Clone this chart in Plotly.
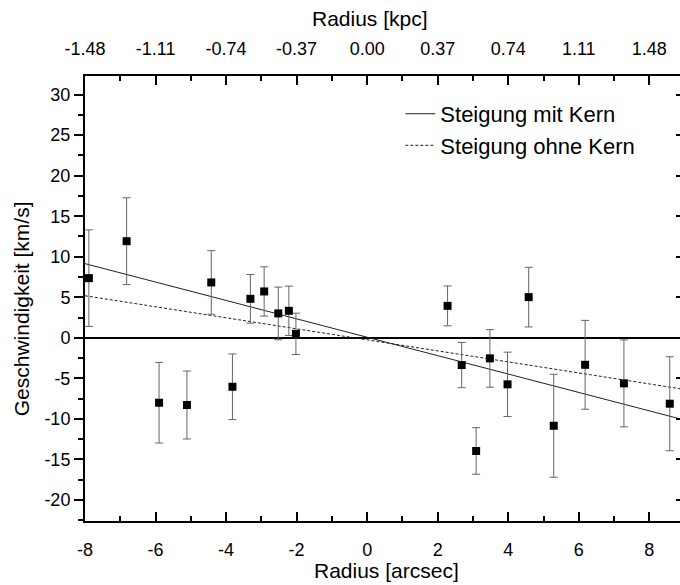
import plotly.graph_objects as go

# Data
radius_arcsec = [-7.89, -6.82, -5.90, -5.11, -4.42, -3.82, -3.31, -2.92, -2.52, -2.22, -2.02,
                 2.28, 2.68, 3.09, 3.48, 3.98, 4.58, 5.29, 6.18, 7.28, 8.58]
velocity = [7.36, 11.92, -8.01, -8.29, 6.83, -6.04, 4.81, 5.72, 3.01, 3.33, 0.49,
            3.94, -3.36, -13.96, -2.54, -5.74, 5.02, -10.85, -3.33, -5.62, -8.13]
velocity_err = [5.96, 5.36, 4.97, 4.19, 3.92, 4.05, 3.00, 3.04, 3.25, 3.04, 2.55,
                2.46, 2.79, 2.87, 3.55, 3.97, 3.68, 6.35, 5.48, 5.36, 5.80]

fit_names = ["Steigung mit Kern", "Steigung ohne Kern"]
fit_slopes = [-1.135, -0.68]
fit_intercepts = [0.07, -0.25]
fit_dash = ["solid", "3px,2px"]

x_ticks = [-8, -6, -4, -2, 0, 2, 4, 6, 8]
y_ticks = [-20, -15, -10, -5, 0, 5, 10, 15, 20, 25, 30]
kpc_ticks = [-1.48, -1.11, -0.74, -0.37, 0.00, 0.37, 0.74, 1.11, 1.48]

KPC_PER_ARCSEC = 0.185
X_RANGE = [-8.0, 8.87]
Y_RANGE = [-22.6, 32.3]

FONT = "Liberation Sans, Arial, sans-serif"

fig = go.Figure()

for name, m, b, d in zip(fit_names, fit_slopes, fit_intercepts, fit_dash):
    xs = X_RANGE
    ys = [m * x + b for x in xs]
    fig.add_trace(go.Scatter(x=xs, y=ys, mode="lines", name=name,
                             line=dict(color="#222222", width=1, dash=d)))

fig.add_trace(go.Scatter(
    x=radius_arcsec, y=velocity, mode="markers", showlegend=False,
    marker=dict(symbol="square", size=8, color="black"),
    error_y=dict(type="data", array=velocity_err, visible=True,
                 color="#666666", thickness=1, width=4)))

# invisible trace to carry the top (kpc) axis and the right axis
fig.add_trace(go.Scatter(
    x=[v * KPC_PER_ARCSEC for v in radius_arcsec], y=velocity,
    xaxis="x2", yaxis="y2", mode="markers", marker=dict(opacity=0),
    showlegend=False, hoverinfo="skip"))

fig.update_layout(
    width=680, height=585,
    margin=dict(l=85, r=0, t=76, b=64),
    paper_bgcolor="white", plot_bgcolor="white",
    font=dict(family=FONT, size=18, color="black"),
    showlegend=True,
    legend=dict(x=0.53, y=0.962, xanchor="left", yanchor="top",
                bgcolor="rgba(0,0,0,0)", font=dict(size=22)),
    xaxis=dict(range=X_RANGE, showgrid=False, zeroline=False, automargin=False,
               showline=True, linecolor="black", linewidth=2,
               ticks="inside", ticklen=9, tickwidth=1.5, tickcolor="black",
               tickmode="array", tickvals=x_ticks, ticktext=[str(v) for v in x_ticks],
               minor=dict(ticks="inside", ticklen=5, tickwidth=1.5, dtick=1, tick0=0, tickcolor="black"),
               ticklabelstandoff=11),
    xaxis2=dict(range=[X_RANGE[0] * KPC_PER_ARCSEC, X_RANGE[1] * KPC_PER_ARCSEC],
                overlaying="x", side="top", anchor="y", automargin=False,
                showgrid=False, zeroline=False,
                showline=True, linecolor="black", linewidth=2,
                ticks="inside", ticklen=9, tickwidth=1.5, tickcolor="black",
                tickmode="array", tickvals=kpc_ticks,
                ticktext=["%.2f" % v for v in kpc_ticks],
                minor=dict(ticks="inside", ticklen=5, tickwidth=1.5, dtick=0.185, tick0=0, tickcolor="black"),
                ticklabelstandoff=12),
    yaxis=dict(range=Y_RANGE, showgrid=False, automargin=False,
               zeroline=True, zerolinecolor="black", zerolinewidth=2,
               showline=True, linecolor="black", linewidth=2,
               ticks="outside", ticklen=9, tickwidth=1.5, tickcolor="black",
               tickmode="array", tickvals=y_ticks, ticktext=[str(v) for v in y_ticks],
               minor=dict(ticks="outside", ticklen=5, tickwidth=1.5, dtick=2.5, tick0=0, tickcolor="black")),
    yaxis2=dict(range=Y_RANGE, overlaying="y", side="right", anchor="x", automargin=False,
                showgrid=False, zeroline=False, showline=False,
                ticks="inside", ticklen=4, tickwidth=1.5, tickcolor="black",
                tickmode="array", tickvals=y_ticks, showticklabels=False),
    annotations=[
        dict(text="Geschwindigkeit [km/s]", textangle=-90,
             xref="paper", yref="paper", x=-0.1076, y=0.478,
             xanchor="center", yanchor="middle", showarrow=False, font=dict(size=21)),
        dict(text="Radius [arcsec]", xref="paper", yref="paper",
             x=0.506, y=-0.142, xanchor="center", yanchor="bottom",
             showarrow=False, font=dict(size=21)),
        dict(text="Radius [kpc]", xref="paper", yref="paper",
             x=0.479, y=1.13, xanchor="center", yanchor="middle",
             showarrow=False, font=dict(size=21)),
    ],
)

fig.write_html("out.html")
